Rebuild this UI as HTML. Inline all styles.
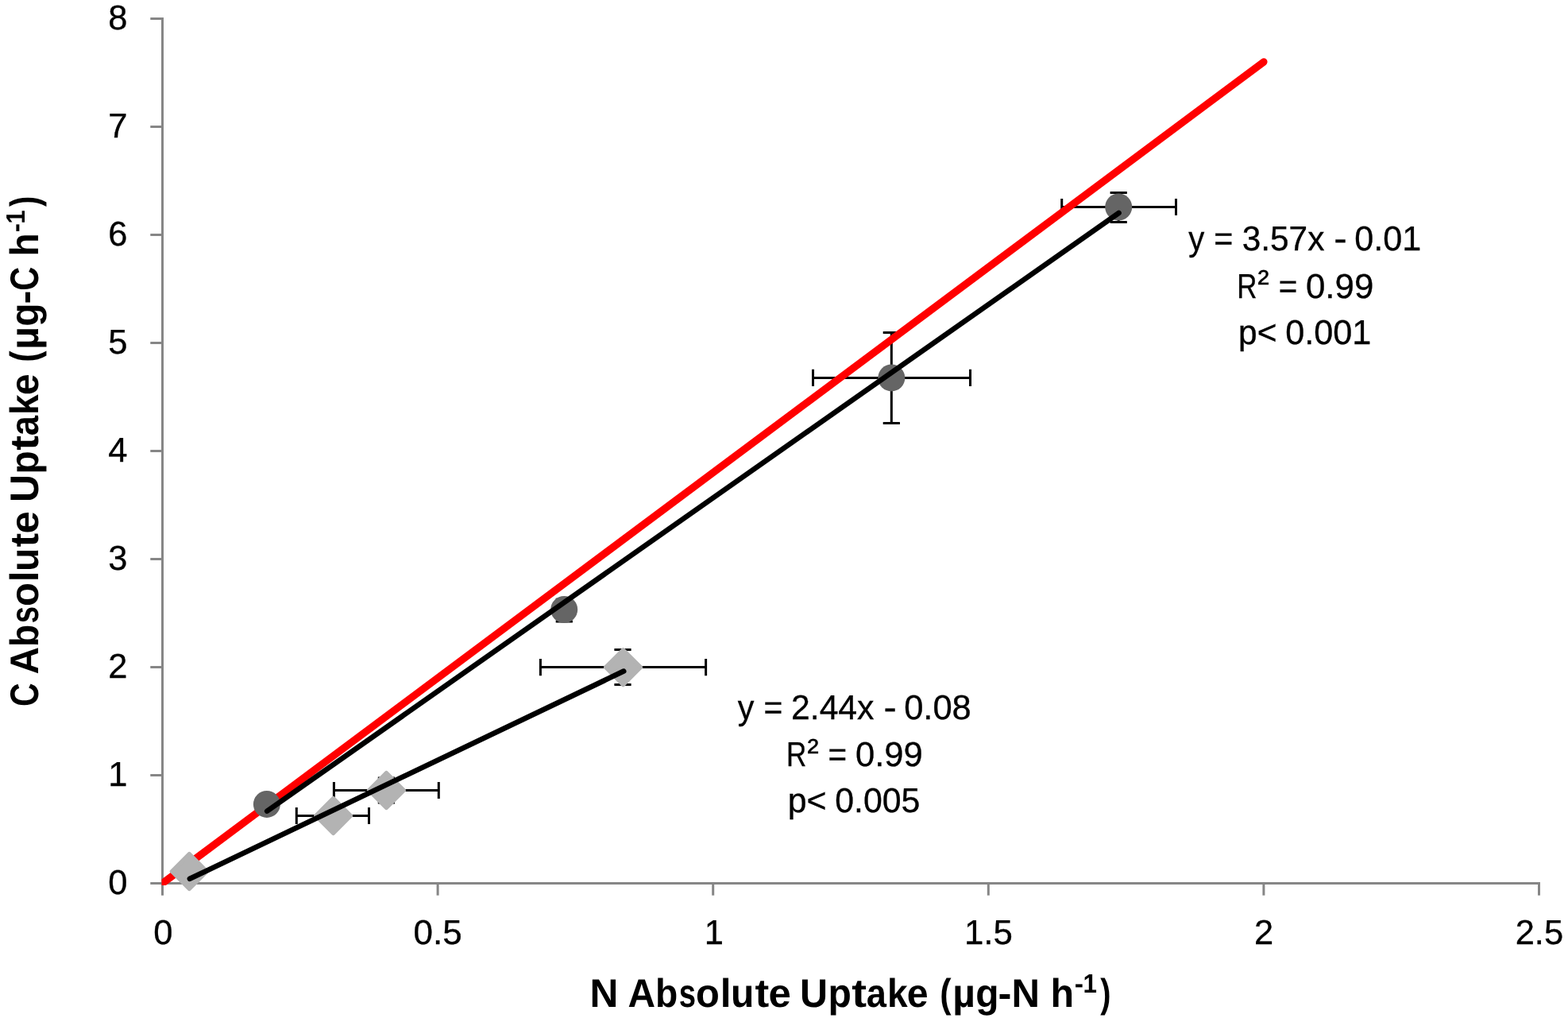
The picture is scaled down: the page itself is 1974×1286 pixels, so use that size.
<!DOCTYPE html>
<html lang="en"><head><meta charset="utf-8"><title>C vs N Absolute Uptake</title>
<style>
html,body{margin:0;padding:0;background:#fff;}
body{width:1974px;height:1286px;overflow:hidden;}
svg{display:block;}
text{font-family:"Liberation Sans",sans-serif;fill:#000;text-rendering:geometricPrecision;white-space:pre;}
.tk,.eq{font-size:43.5px;stroke:#000;stroke-width:0.35px;}
.ttl{font-size:50.3px;font-weight:bold;}
.sup{font-size:33.3px;}
</style></head><body>
<svg width="1974" height="1286" viewBox="0 0 1974 1286">
<rect width="1974" height="1286" fill="#fff"/>
<defs><clipPath id="cp"><rect x="203.5" y="0" width="1800" height="1114"/></clipPath></defs>
<g stroke="#868686" stroke-width="3" fill="none">
<line x1="204.5" y1="22.0" x2="204.5" y2="1126.7"/>
<line x1="189.3" y1="1111.5" x2="1939.0" y2="1111.5"/>
<line x1="189.3" y1="975.50" x2="204.5" y2="975.50"/>
<line x1="189.3" y1="839.50" x2="204.5" y2="839.50"/>
<line x1="189.3" y1="703.50" x2="204.5" y2="703.50"/>
<line x1="189.3" y1="567.50" x2="204.5" y2="567.50"/>
<line x1="189.3" y1="431.50" x2="204.5" y2="431.50"/>
<line x1="189.3" y1="295.50" x2="204.5" y2="295.50"/>
<line x1="189.3" y1="159.50" x2="204.5" y2="159.50"/>
<line x1="189.3" y1="23.50" x2="204.5" y2="23.50"/>
<line x1="551.10" y1="1111.5" x2="551.10" y2="1126.7"/>
<line x1="897.70" y1="1111.5" x2="897.70" y2="1126.7"/>
<line x1="1244.30" y1="1111.5" x2="1244.30" y2="1126.7"/>
<line x1="1590.90" y1="1111.5" x2="1590.90" y2="1126.7"/>
<line x1="1937.50" y1="1111.5" x2="1937.50" y2="1126.7"/>
</g>
<g stroke="#000" stroke-width="3" fill="none">
<path d="M373.3 1026.5H464.5M373.3 1015.9V1037.1M464.5 1015.9V1037.1"/>
<path d="M420.4 994.5H552.3M420.4 983.9V1005.1M552.3 983.9V1005.1"/>
<path d="M486.4 979.0V1010.0M475.8 979.0H497.0M475.8 1010.0H497.0"/>
<path d="M680.4 839.6H888.6M680.4 829.0V850.2M888.6 829.0V850.2"/>
<path d="M784.0 817.4V861.5M773.4 817.4H794.6M773.4 861.5H794.6"/>
<path d="M710.3 754.2V782.1M699.7 754.2H720.9M699.7 782.1H720.9"/>
<path d="M1023.5 475.4H1221.5M1023.5 464.8V486.0M1221.5 464.8V486.0"/>
<path d="M1122.3 418.6V532.5M1111.7 418.6H1132.9M1111.7 532.5H1132.9"/>
<path d="M1336.7 260.5H1480.5M1336.7 249.9V271.1M1480.5 249.9V271.1"/>
<path d="M1408.2 242.5V279.6M1397.6 242.5H1418.8M1397.6 279.6H1418.8"/>
</g>
<line x1="204.50" y1="1111.50" x2="1590.90" y2="77.90" stroke="#ff0000" stroke-width="9.3" stroke-linecap="round" clip-path="url(#cp)"/>
<path d="M238.3 1074.6L260.2 1096.5L238.3 1118.4L216.4 1096.5Z" fill="#b3b3b3" stroke="#b3b3b3" stroke-width="5.3" stroke-linejoin="round"/>
<path d="M419.6 1004.6L441.5 1026.5L419.6 1048.4L397.7 1026.5Z" fill="#b3b3b3" stroke="#b3b3b3" stroke-width="5.3" stroke-linejoin="round"/>
<path d="M486.4 972.6L508.3 994.5L486.4 1016.4L464.5 994.5Z" fill="#b3b3b3" stroke="#b3b3b3" stroke-width="5.3" stroke-linejoin="round"/>
<path d="M784.5 817.8L806.4 839.7L784.5 861.6L762.6 839.7Z" fill="#b3b3b3" stroke="#b3b3b3" stroke-width="5.3" stroke-linejoin="round"/>
<circle cx="335.9" cy="1011.9" r="17" fill="#656565"/>
<circle cx="710.2" cy="767.0" r="17" fill="#656565"/>
<circle cx="1122.3" cy="475.4" r="17" fill="#656565"/>
<circle cx="1408.2" cy="260.5" r="17" fill="#656565"/>
<g stroke="#000" stroke-width="6.6" stroke-linecap="round">
<line x1="336.2" y1="1020.6" x2="1408.5" y2="268"/>
<line x1="238.9" y1="1105.8" x2="785.2" y2="844.6"/>
</g>
<text class="tk" x="136.25" y="1125.40">0</text>
<text class="tk" x="136.25" y="989.40">1</text>
<text class="tk" x="136.25" y="853.40">2</text>
<text class="tk" x="136.25" y="717.40">3</text>
<text class="tk" x="136.25" y="581.40">4</text>
<text class="tk" x="136.25" y="445.40">5</text>
<text class="tk" x="136.25" y="309.40">6</text>
<text class="tk" x="136.25" y="173.40">7</text>
<text class="tk" x="136.25" y="37.40">8</text>
<text class="tk" x="205.35" y="1188" text-anchor="middle">0</text>
<text class="tk" y="1188"><tspan x="520.58" textLength="61.06" lengthAdjust="spacingAndGlyphs">0.5</tspan></text>
<text class="tk" x="898.80" y="1188" text-anchor="middle">1</text>
<text class="tk" y="1188"><tspan x="1213.97" textLength="60.87" lengthAdjust="spacingAndGlyphs">1.5</tspan></text>
<text class="tk" x="1591.10" y="1188" text-anchor="middle">2</text>
<text class="tk" y="1188"><tspan x="1907.71" textLength="60.41" lengthAdjust="spacingAndGlyphs">2.5</tspan></text>
<text class="eq" y="315.2"><tspan x="1496.30" textLength="19.98" lengthAdjust="spacingAndGlyphs">y</tspan> <tspan x="1528.29" textLength="24.04" lengthAdjust="spacingAndGlyphs">=</tspan> <tspan x="1563.69" textLength="103.67" lengthAdjust="spacingAndGlyphs">3.57x</tspan> <tspan x="1679.30" textLength="16.50" lengthAdjust="spacingAndGlyphs">-</tspan> <tspan x="1705.32" textLength="83.89" lengthAdjust="spacingAndGlyphs">0.01</tspan></text>
<text class="eq" y="374.5"><tspan x="1557.24" textLength="25.18" lengthAdjust="spacingAndGlyphs">R</tspan><tspan x="1583.23" textLength="14.50" lengthAdjust="spacingAndGlyphs" dy="-4.4">²</tspan> <tspan x="1609.73" textLength="23.56" lengthAdjust="spacingAndGlyphs" dy="4.4">=</tspan> <tspan x="1643.99" textLength="85.29" lengthAdjust="spacingAndGlyphs">0.99</tspan></text>
<text class="eq" y="432.5"><tspan x="1559.06" textLength="48.41" lengthAdjust="spacingAndGlyphs">p&lt;</tspan> <tspan x="1618.21" textLength="108.10" lengthAdjust="spacingAndGlyphs">0.001</tspan></text>
<text class="eq" y="904.9"><tspan x="928.80" textLength="20.58" lengthAdjust="spacingAndGlyphs">y</tspan> <tspan x="961.41" textLength="23.80" lengthAdjust="spacingAndGlyphs">=</tspan> <tspan x="996.05" textLength="104.40" lengthAdjust="spacingAndGlyphs">2.44x</tspan> <tspan x="1112.44" textLength="16.23" lengthAdjust="spacingAndGlyphs">-</tspan> <tspan x="1138.20" textLength="84.59" lengthAdjust="spacingAndGlyphs">0.08</tspan></text>
<text class="eq" y="964.1"><tspan x="990.03" textLength="25.30" lengthAdjust="spacingAndGlyphs">R</tspan><tspan x="1016.23" textLength="14.50" lengthAdjust="spacingAndGlyphs" dy="-4.4">²</tspan> <tspan x="1042.43" textLength="23.56" lengthAdjust="spacingAndGlyphs" dy="4.4">=</tspan> <tspan x="1077.10" textLength="84.66" lengthAdjust="spacingAndGlyphs">0.99</tspan></text>
<text class="eq" y="1022.1"><tspan x="991.65" textLength="48.74" lengthAdjust="spacingAndGlyphs">p&lt;</tspan> <tspan x="1051.33" textLength="107.07" lengthAdjust="spacingAndGlyphs">0.005</tspan></text>
<text class="ttl" y="1266.5"><tspan x="742.58" textLength="35.87" lengthAdjust="spacingAndGlyphs">N</tspan> <tspan x="790.61" textLength="34.55" lengthAdjust="spacingAndGlyphs">A</tspan><tspan x="824.95" textLength="28.24" lengthAdjust="spacingAndGlyphs">b</tspan><tspan x="854.75" textLength="21.32" lengthAdjust="spacingAndGlyphs">s</tspan><tspan x="875.99" textLength="29.81" lengthAdjust="spacingAndGlyphs">o</tspan><tspan x="906.64" textLength="13.77" lengthAdjust="spacingAndGlyphs">l</tspan><tspan x="920.12" textLength="29.35" lengthAdjust="spacingAndGlyphs">u</tspan><tspan x="950.45" textLength="17.70" lengthAdjust="spacingAndGlyphs">t</tspan><tspan x="967.61" textLength="28.33" lengthAdjust="spacingAndGlyphs">e</tspan> <tspan x="1006.94" textLength="35.02" lengthAdjust="spacingAndGlyphs">U</tspan><tspan x="1042.43" textLength="29.34" lengthAdjust="spacingAndGlyphs">p</tspan><tspan x="1072.21" textLength="18.78" lengthAdjust="spacingAndGlyphs">t</tspan><tspan x="1090.78" textLength="25.14" lengthAdjust="spacingAndGlyphs">a</tspan><tspan x="1116.98" textLength="25.68" lengthAdjust="spacingAndGlyphs">k</tspan><tspan x="1141.72" textLength="26.83" lengthAdjust="spacingAndGlyphs">e</tspan> <tspan x="1183.26" textLength="14.28" lengthAdjust="spacingAndGlyphs">(</tspan><tspan x="1199.35" textLength="28.64" lengthAdjust="spacingAndGlyphs">µ</tspan><tspan x="1228.23" textLength="29.27" lengthAdjust="spacingAndGlyphs">g</tspan><tspan x="1256.62" textLength="16.92" lengthAdjust="spacingAndGlyphs">-</tspan><tspan x="1273.41" textLength="35.50" lengthAdjust="spacingAndGlyphs">N</tspan> <tspan x="1322.42" textLength="29.59" lengthAdjust="spacingAndGlyphs">h</tspan><tspan x="1352.88" textLength="11.28" lengthAdjust="spacingAndGlyphs" class="sup" dy="-17.1">-</tspan><tspan x="1363.42" textLength="17.45" lengthAdjust="spacingAndGlyphs" class="sup">1</tspan><tspan x="1385.16" textLength="13.22" lengthAdjust="spacingAndGlyphs" dy="17.1">)</tspan></text>
<text class="ttl" transform="translate(48.3 887.2) rotate(-90)" y="0"><tspan x="-1.69" textLength="29.71" lengthAdjust="spacingAndGlyphs">C</tspan> <tspan x="38.81" textLength="34.55" lengthAdjust="spacingAndGlyphs">A</tspan><tspan x="73.15" textLength="28.24" lengthAdjust="spacingAndGlyphs">b</tspan><tspan x="102.95" textLength="21.32" lengthAdjust="spacingAndGlyphs">s</tspan><tspan x="124.19" textLength="29.81" lengthAdjust="spacingAndGlyphs">o</tspan><tspan x="154.84" textLength="13.77" lengthAdjust="spacingAndGlyphs">l</tspan><tspan x="168.32" textLength="29.35" lengthAdjust="spacingAndGlyphs">u</tspan><tspan x="198.65" textLength="17.70" lengthAdjust="spacingAndGlyphs">t</tspan><tspan x="215.81" textLength="28.33" lengthAdjust="spacingAndGlyphs">e</tspan> <tspan x="255.14" textLength="35.02" lengthAdjust="spacingAndGlyphs">U</tspan><tspan x="290.63" textLength="29.34" lengthAdjust="spacingAndGlyphs">p</tspan><tspan x="320.41" textLength="18.78" lengthAdjust="spacingAndGlyphs">t</tspan><tspan x="338.98" textLength="25.14" lengthAdjust="spacingAndGlyphs">a</tspan><tspan x="365.18" textLength="25.68" lengthAdjust="spacingAndGlyphs">k</tspan><tspan x="389.92" textLength="26.83" lengthAdjust="spacingAndGlyphs">e</tspan> <tspan x="431.46" textLength="14.28" lengthAdjust="spacingAndGlyphs">(</tspan><tspan x="447.55" textLength="28.64" lengthAdjust="spacingAndGlyphs">µ</tspan><tspan x="476.43" textLength="29.27" lengthAdjust="spacingAndGlyphs">g</tspan><tspan x="504.82" textLength="16.92" lengthAdjust="spacingAndGlyphs">-</tspan><tspan x="521.49" textLength="30.04" lengthAdjust="spacingAndGlyphs">C</tspan> <tspan x="564.42" textLength="29.59" lengthAdjust="spacingAndGlyphs">h</tspan><tspan x="594.88" textLength="11.28" lengthAdjust="spacingAndGlyphs" class="sup" dy="-17.1">-</tspan><tspan x="605.42" textLength="17.45" lengthAdjust="spacingAndGlyphs" class="sup">1</tspan><tspan x="627.16" textLength="13.22" lengthAdjust="spacingAndGlyphs" dy="17.1">)</tspan></text>
</svg></body></html>
